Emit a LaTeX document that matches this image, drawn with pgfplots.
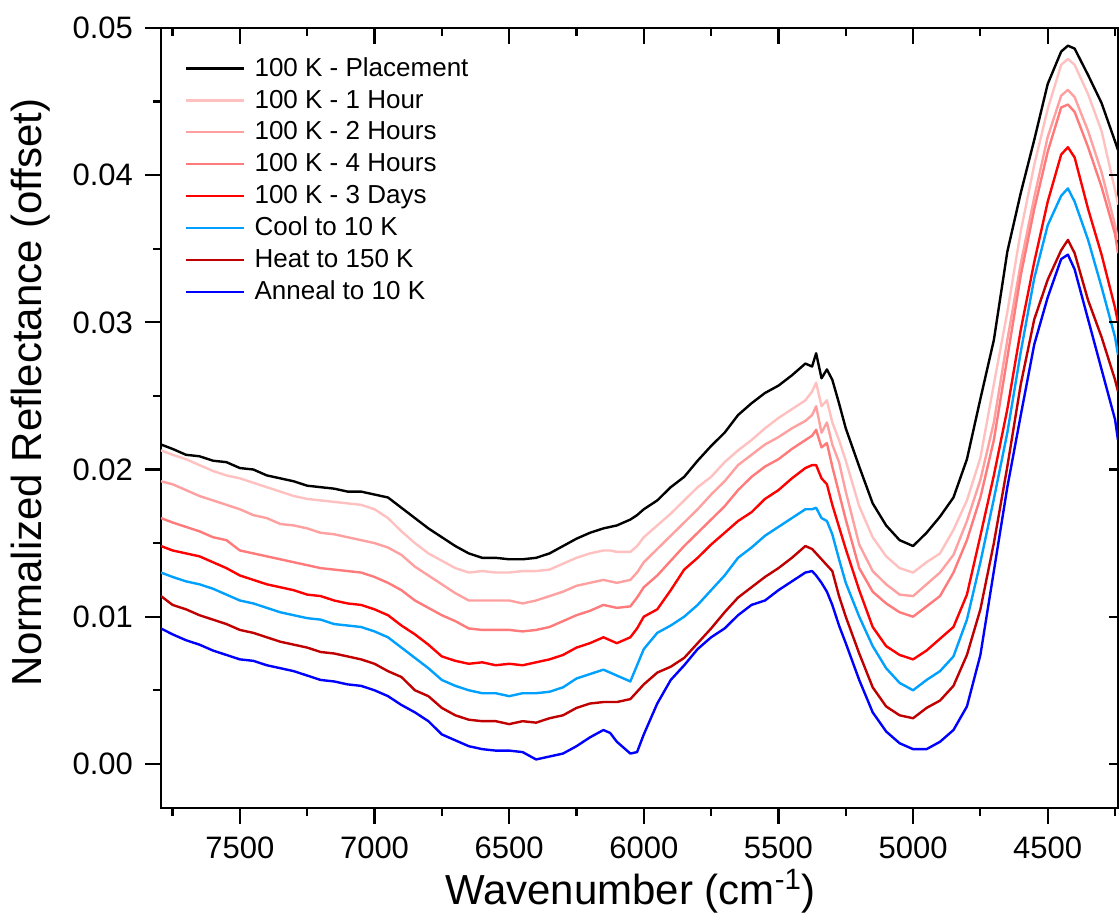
\documentclass[border=0pt]{standalone}
\usepackage{fontspec}
\setmainfont{Liberation Sans}
\usepackage{pgfplots}
\usepackage{pgfplotstable}
\pgfplotsset{compat=1.18}
\definecolor{cA}{RGB}{0,0,0}
\definecolor{cB}{RGB}{255,192,192}
\definecolor{cC}{RGB}{255,160,160}
\definecolor{cD}{RGB}{255,122,122}
\definecolor{cE}{RGB}{255,0,0}
\definecolor{cF}{RGB}{0,160,255}
\definecolor{cG}{RGB}{192,0,0}
\definecolor{cH}{RGB}{0,0,255}
\pgfplotsset{legend image code/.code={\draw[#1, line width=1.2pt] (0pt,0pt) -- (29pt,0pt); \path (31.5pt,0pt);}}
\pgfplotstableread{
wn A B C D E F G H
7793 0.0217 0.0213 0.0192 0.0167 0.0148 0.0130 0.0114 0.0092
7750 0.0214 0.0210 0.0190 0.0164 0.0145 0.0127 0.0108 0.0088
7700 0.0210 0.0207 0.0186 0.0161 0.0143 0.0124 0.0105 0.0084
7650 0.0209 0.0203 0.0182 0.0158 0.0141 0.0122 0.0101 0.0081
7600 0.0206 0.0199 0.0179 0.0154 0.0137 0.0119 0.0098 0.0077
7550 0.0205 0.0196 0.0176 0.0152 0.0133 0.0115 0.0095 0.0074
7500 0.0201 0.0194 0.0173 0.0145 0.0128 0.0111 0.0091 0.0071
7450 0.0200 0.0191 0.0169 0.0143 0.0125 0.0109 0.0089 0.0070
7400 0.0196 0.0188 0.0167 0.0141 0.0122 0.0106 0.0086 0.0067
7350 0.0194 0.0185 0.0163 0.0139 0.0120 0.0103 0.0083 0.0065
7300 0.0192 0.0182 0.0162 0.0137 0.0118 0.0101 0.0081 0.0063
7250 0.0189 0.0180 0.0160 0.0135 0.0115 0.0099 0.0079 0.0060
7200 0.0188 0.0179 0.0157 0.0133 0.0114 0.0098 0.0076 0.0057
7150 0.0187 0.0178 0.0156 0.0132 0.0111 0.0095 0.0075 0.0056
7100 0.0185 0.0177 0.0154 0.0131 0.0109 0.0094 0.0073 0.0054
7050 0.0185 0.0176 0.0152 0.0130 0.0108 0.0093 0.0071 0.0053
7000 0.0183 0.0173 0.0150 0.0127 0.0105 0.0090 0.0068 0.0050
6950 0.0181 0.0167 0.0147 0.0123 0.0101 0.0086 0.0063 0.0046
6900 0.0174 0.0158 0.0142 0.0118 0.0094 0.0079 0.0059 0.0040
6850 0.0167 0.0150 0.0134 0.0111 0.0088 0.0072 0.0050 0.0035
6800 0.0160 0.0143 0.0128 0.0106 0.0081 0.0065 0.0046 0.0029
6750 0.0154 0.0138 0.0122 0.0101 0.0073 0.0057 0.0038 0.0020
6700 0.0148 0.0133 0.0116 0.0097 0.0070 0.0053 0.0033 0.0016
6650 0.0143 0.0130 0.0111 0.0092 0.0068 0.0050 0.0030 0.0012
6600 0.0140 0.0131 0.0111 0.0091 0.0069 0.0048 0.0029 0.0010
6550 0.0140 0.0130 0.0111 0.0091 0.0067 0.0048 0.0029 0.0009
6500 0.0139 0.0130 0.0111 0.0091 0.0068 0.0046 0.0027 0.0009
6450 0.0139 0.0131 0.0109 0.0090 0.0067 0.0048 0.0029 0.0008
6400 0.0140 0.0131 0.0111 0.0091 0.0069 0.0048 0.0028 0.0003
6350 0.0143 0.0132 0.0114 0.0093 0.0071 0.0049 0.0031 0.0005
6300 0.0148 0.0136 0.0117 0.0097 0.0074 0.0052 0.0033 0.0007
6250 0.0153 0.0140 0.0121 0.0101 0.0079 0.0058 0.0038 0.0012
6200 0.0157 0.0143 0.0123 0.0104 0.0082 0.0061 0.0041 0.0018
6150 0.0160 0.0145 0.0125 0.0108 0.0086 0.0064 0.0042 0.0023
6125 0.0161 0.0145 0.0124 0.0107 0.0084 0.0062 0.0042 0.0021
6100 0.0162 0.0144 0.0123 0.0106 0.0082 0.0060 0.0042 0.0015
6050 0.0166 0.0144 0.0125 0.0107 0.0086 0.0056 0.0044 0.0007
6025 0.0169 0.0148 0.0130 0.0113 0.0092 0.0067 0.0049 0.0008
6000 0.0173 0.0154 0.0137 0.0120 0.0100 0.0078 0.0054 0.0020
5950 0.0179 0.0162 0.0146 0.0128 0.0105 0.0089 0.0062 0.0041
5900 0.0188 0.0170 0.0155 0.0138 0.0118 0.0094 0.0066 0.0057
5850 0.0195 0.0179 0.0164 0.0148 0.0132 0.0100 0.0072 0.0067
5800 0.0206 0.0188 0.0173 0.0157 0.0140 0.0108 0.0082 0.0078
5750 0.0216 0.0195 0.0183 0.0166 0.0149 0.0118 0.0092 0.0086
5700 0.0225 0.0205 0.0192 0.0175 0.0157 0.0128 0.0103 0.0092
5650 0.0237 0.0213 0.0203 0.0186 0.0165 0.0140 0.0113 0.0101
5600 0.0245 0.0220 0.0210 0.0195 0.0171 0.0147 0.0120 0.0108
5550 0.0252 0.0228 0.0217 0.0202 0.0180 0.0155 0.0127 0.0111
5500 0.0257 0.0235 0.0222 0.0207 0.0186 0.0161 0.0133 0.0118
5450 0.0264 0.0241 0.0228 0.0214 0.0194 0.0167 0.0140 0.0124
5400 0.0272 0.0247 0.0233 0.0220 0.0201 0.0173 0.0148 0.0130
5375 0.0270 0.0253 0.0237 0.0223 0.0203 0.0173 0.0146 0.0131
5360 0.0279 0.0259 0.0243 0.0227 0.0203 0.0174 0.0143 0.0128
5340 0.0262 0.0243 0.0225 0.0215 0.0194 0.0167 0.0139 0.0123
5320 0.0268 0.0247 0.0232 0.0218 0.0190 0.0165 0.0135 0.0117
5300 0.0261 0.0232 0.0217 0.0202 0.0176 0.0156 0.0131 0.0108
5275 0.0245 0.0220 0.0205 0.0184 0.0161 0.0139 0.0114 0.0094
5250 0.0228 0.0206 0.0185 0.0166 0.0146 0.0123 0.0100 0.0082
5200 0.0202 0.0175 0.0149 0.0133 0.0118 0.0100 0.0075 0.0057
5150 0.0177 0.0154 0.0131 0.0117 0.0093 0.0080 0.0052 0.0035
5100 0.0162 0.0141 0.0122 0.0109 0.0080 0.0065 0.0039 0.0022
5050 0.0152 0.0133 0.0115 0.0103 0.0074 0.0055 0.0033 0.0014
5000 0.0148 0.0130 0.0114 0.0100 0.0071 0.0050 0.0031 0.0010
4950 0.0157 0.0137 0.0122 0.0107 0.0077 0.0057 0.0038 0.0010
4900 0.0168 0.0143 0.0130 0.0114 0.0085 0.0063 0.0043 0.0015
4850 0.0181 0.0159 0.0142 0.0130 0.0093 0.0073 0.0053 0.0023
4800 0.0207 0.0179 0.0165 0.0152 0.0115 0.0098 0.0074 0.0039
4750 0.0248 0.0208 0.0193 0.0181 0.0155 0.0137 0.0105 0.0074
4700 0.0288 0.0258 0.0232 0.0220 0.0196 0.0180 0.0150 0.0131
4650 0.0348 0.0307 0.0288 0.0276 0.0241 0.0225 0.0202 0.0188
4600 0.0388 0.0362 0.0340 0.0332 0.0295 0.0280 0.0258 0.0237
4550 0.0424 0.0407 0.0385 0.0377 0.0341 0.0330 0.0302 0.0285
4500 0.0462 0.0445 0.0426 0.0416 0.0382 0.0366 0.0329 0.0317
4450 0.0484 0.0475 0.0454 0.0446 0.0414 0.0386 0.0349 0.0343
4425 0.0488 0.0479 0.0458 0.0448 0.0419 0.0391 0.0356 0.0346
4400 0.0486 0.0475 0.0453 0.0443 0.0412 0.0382 0.0347 0.0336
4350 0.0468 0.0455 0.0430 0.0419 0.0377 0.0356 0.0315 0.0302
4300 0.0449 0.0430 0.0402 0.0392 0.0346 0.0324 0.0290 0.0268
4250 0.0423 0.0390 0.0366 0.0360 0.0310 0.0290 0.0261 0.0234
4239 0.0417 0.0380 0.0356 0.0347 0.0300 0.0278 0.0253 0.0220
}\data
\begin{document}
\begin{tikzpicture}
\begin{axis}[
  at={(0,0)}, anchor=south west,
  scale only axis, width=478.5pt, height=390pt,
  x dir=reverse, xmin=4239, xmax=7793, ymin=-0.003, ymax=0.05,
  xtick={4500,5000,5500,6000,6500,7000,7500},
  minor xtick={4250,4750,5250,5750,6250,6750,7250,7750},
  ytick={0,0.01,0.02,0.03,0.04,0.05},
  minor ytick={0.005,0.015,0.025,0.035,0.045},
  major tick length=8pt, minor tick length=4pt,
  every tick/.style={draw=black, line width=1.1pt},
  axis line style={draw=black, line width=1.2pt},
  scaled y ticks=false,
  xtick pos=bottom, ytick pos=left, tick align=outside,
  /pgf/number format/assume math mode=true,
  yticklabel style={/pgf/number format/fixed, /pgf/number format/fixed zerofill, /pgf/number format/precision=2, xshift=-2.5pt},
  xticklabel style={/pgf/number format/1000 sep={}, yshift=-3pt},
  tick label style={font=\fontsize{15.5}{18}\selectfont},
  xlabel={Wavenumber (cm\textsuperscript{-1})},
  ylabel={Normalized Reflectance (offset)},
  label style={font=\fontsize{21}{24}\selectfont},
  xlabel style={at={(axis description cs:0.4906,-0.107)}, anchor=center},
  ylabel style={at={(axis description cs:-0.136,0.533)}, anchor=center},
  legend cell align=left,
  legend style={draw=none, fill=none, at={(axis description cs:0.0186,0.973)}, anchor=north west,
    font=\fontsize{13}{15}\selectfont, row sep=1.3pt},
  every axis plot/.append style={line width=1.2pt, line join=round},
]
\addplot[cA] table[x=wn, y=A]{\data};
\addplot[cB] table[x=wn, y=B]{\data};
\addplot[cC] table[x=wn, y=C]{\data};
\addplot[cD] table[x=wn, y=D]{\data};
\addplot[cE] table[x=wn, y=E]{\data};
\addplot[cF] table[x=wn, y=F]{\data};
\addplot[cG] table[x=wn, y=G]{\data};
\addplot[cH] table[x=wn, y=H]{\data};
\legend{100 K - Placement, 100 K - 1 Hour, 100 K - 2 Hours, 100 K - 4 Hours, 100 K - 3 Days, Cool to 10 K, Heat to 150 K, Anneal to 10 K}
\pgfplotsinvokeforeach{4500,5000,5500,6000,6500,7000,7500}{
  \draw[black, line width=1.1pt] (axis cs:#1,0.05) -- ++(0pt,-8pt);
}
\pgfplotsinvokeforeach{4250,4750,5250,5750,6250,6750,7250,7750}{
  \draw[black, line width=1.1pt] (axis cs:#1,0.05) -- ++(0pt,-4pt);
}
\pgfplotsinvokeforeach{0,0.01,0.02,0.03,0.04}{
  \draw[black, line width=1.1pt] (axis cs:4239,#1) -- ++(-4.5pt,0pt);
}
\end{axis}
\pgfresetboundingbox
\useasboundingbox (-80.5pt,-55pt) rectangle (479pt,404pt);
\end{tikzpicture}
\end{document}
